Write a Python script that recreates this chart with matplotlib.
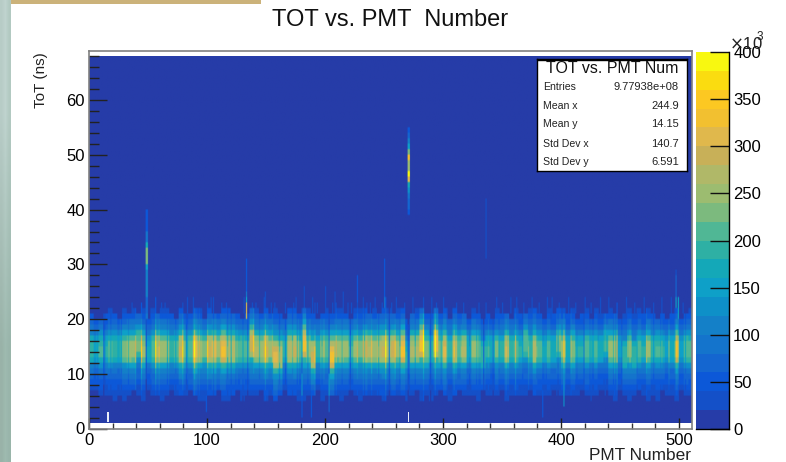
import numpy as np
import matplotlib
matplotlib.use("Agg")
import matplotlib.pyplot as plt
from matplotlib.colors import ListedColormap, BoundaryNorm
from matplotlib.patches import Rectangle
from matplotlib.ticker import MultipleLocator

plt.rcParams['font.family'] = ['Liberation Sans', 'DejaVu Sans']

# ---- values ----
n_pmt = 511
group_size = 4
group_amp = [190,150,200,180,210,195,175,230,250,245,220,240,160,215,265,255,250,190,205,285,
             235,215,315,255,225,285,315,245,325,275,275,205,215,205,295,265,255,285,245,305,
             275,185,275,285,210,325,245,285,185,245,215,325,245,250,245,200,245,225,295,265,
             255,275,285,265,295,245,325,180,265,260,325,235,185,315,235,305,185,275,215,265,
             175,245,205,190,180,165,225,185,265,190,210,180,215,190,275,205,160,205,175,225,
             245,175,235,180,180,215,165,205,165,180,245,205,155,190,225,190,205,180,245,190,
             200,180,155,175,205,150,215,205]
group_top = [21,20,20,21,22,21,20,22,21,22,21,22,20,22,21,22,22,21,20,22,
             21,21,22,22,20,22,21,21,22,22,21,21,20,21,22,22,21,22,21,22,
             21,20,22,22,21,22,22,21,20,21,22,21,22,22,21,20,22,22,22,21,
             22,21,22,22,21,22,22,20,21,22,22,21,21,22,21,22,20,22,21,21,
             20,22,21,20,21,20,22,21,21,20,22,21,21,22,22,21,20,22,21,22,
             22,21,22,20,21,22,20,22,21,21,22,21,20,21,22,21,22,21,22,21,
             20,21,20,21,22,20,21,22]
group_bot = [7,7,6,6,6,5,6,5,6,7,6,5,7,6,6,5,6,7,6,6,
             6,7,6,5,5,6,6,7,5,5,6,7,5,6,6,6,7,5,6,5,
             6,7,6,6,5,5,6,6,7,5,6,6,6,5,6,7,6,5,6,6,
             6,6,5,6,6,6,6,5,6,7,5,6,5,6,7,6,5,6,7,6,
             5,6,5,7,6,5,6,7,5,6,6,5,6,7,6,6,5,6,7,6,
             6,5,6,5,7,6,5,6,7,6,6,5,7,6,5,6,7,6,5,6,
             5,7,6,6,5,7,6,6]
shift_down_groups = [39,40,47,51,67,83,113,115]
shift_up_groups = [10,34,45,70,73,92,99,109]

profile_tot = [5,6,7,8,9,10,11,12,13,14,15,16,17,18,19,20,21,22,23,24,25]
profile_val = [.11,.15,.21,.28,.36,.45,.60,.88,1.0,1.0,.98,.85,.62,.44,.33,.23,.15,.11,.10,.10,.10]

line_pmt    = [12,13,48,82,83,100,120,134,149,166,180,203,221,251,254,270,271,283,289,293,303,
               334,342,361,402,419,445,447,491,497,498,499,44,56,79,89,
               6,18,26,33,39,52,59,66,73,93,105,111,117,125,130,139,144,155,161,172,177,185,191,
               197,209,214,227,233,239,245,259,263,276,298,309,315,322,329,338,347,353,367,372,
               379,386,391,397,408,413,425,431,437,451,458,464,472,478,485,505]
line_factor = [.5,.75,.38,.58,.72,1.22,.72,.62,1.28,.72,.52,.52,.48,1.42,.42,.42,.62,1.32,.52,1.38,.72,
               .42,.62,1.38,1.45,.62,1.32,1.45,1.5,1.6,1.6,1.3,1.42,1.42,1.28,1.28,
               1.15,.8,1.12,.85,1.18,.82,1.15,.78,.85,1.15,.82,1.18,.8,1.12,.78,1.18,.85,1.15,.8,.82,1.2,.78,1.15,
               .82,1.18,.85,1.15,.78,1.18,.8,1.15,.82,.78,.85,1.18,1.12,.8,1.15,1.12,.78,1.15,.82,1.18,
               .8,1.12,.82,.78,1.15,.82,1.18,.8,1.12,.78,1.15,.82,1.12,.8,1.15,.8]

spike_pmt = [48,48,48,48,48,48,48,48,133,133,133,133,133,
             270,270,270,270,270,270,270,270,270,270,270,270,270,270,270,270,
             336,250,250,227,182,200,149,208,215,
             180,180,188,203,203,99,384,402,497,497,497,499]
spike_lo  = [36,34,33,30,29,24,21,20,26,25,24,23,20,
             52,51,50,49,47,46,45,44,43,42,41,39,53,54,40,48,
             31,24,22,23,23,23,22,22,22,
             2,6,2,3,6,3,2,4,24,22,26,20]
spike_hi  = [40,36,34,33,30,29,24,21,31,26,25,24,23,
             53,52,51,50,49,47,46,45,44,43,42,41,54,55,41,49,
             42,31,24,28,26,26,25,25,25,
             6,10,7,6,10,6,7,9,28,24,29,24]
spike_val = [50,90,170,230,140,110,70,80,40,50,80,150,280,
             100,140,230,320,240,400,300,170,120,80,70,50,60,50,60,240,
             30,40,80,40,30,30,30,30,30,
             50,130,50,60,130,40,40,130,60,150,30,150]
wide_spike_pmt = [48,270]
bump_pmt = [36,44,56,61,64,79,83,88,100,103,105,112,116,131,138,141,148,154,157,166,173,175,182,
            189,191,193,200,206,209,215,219,222,227,232,235,238,242,248,251,256,260,267,274,283,
            290,294,300,311,317,330,336,345,350,357,362,368,375,381,388,392,398,406,412,420,425,
            433,440,447,455,462,470,478,485,493,503]
bump_top = [23,23,24,23,23,23,24,24,23,24,24,23,23,24,23,23,24,23,23,23,23,24,24,
            24,23,23,24,23,23,24,23,23,25,24,23,23,24,23,24,23,24,23,24,24,
            24,23,24,23,23,23,23,24,23,24,24,23,24,23,24,24,23,24,23,24,23,
            24,24,23,24,23,24,23,24,24,23]
white_pmt = [15,270]

cbar_levels = list(range(0, 420, 20))
cbar_colors = ['#263ca8','#1450c8','#0c58d8','#1466d0','#1474cc','#1480c8','#0e90c8','#0ea0c8',
               '#14a8b8','#2eb0a4','#50b795','#7cba7e','#9cbc70','#b0b868','#c8b058','#e0b84c',
               '#f2c030','#fcc822','#fadc10','#f8f810']
cbar_ticks = [0,50,100,150,200,250,300,350,400]
x_major = 100
x_minor = 20
y_major = 10
y_minor = 2
stat_names = ['Entries','Mean x','Mean y','Std Dev x','Std Dev y']
stat_values = ['9.77938e+08','244.9','14.15','140.7','6.591']

# ---- build histogram ----
Z = np.zeros((67, n_pmt))
prof = dict(zip(profile_tot, profile_val))
for g, a in enumerate(group_amp):
    s = 1 if g in shift_up_groups else (-1 if g in shift_down_groups else 0)
    for p in range(g * group_size, min((g + 1) * group_size, n_pmt)):
        for tot in range(group_bot[g], group_top[g]):
            Z[tot - 1, p] = a * prof.get(tot - s, .11)
for p, t in zip(bump_pmt, bump_top):
    Z[20:t - 1, p] = np.maximum(Z[20:t - 1, p], 30)
for p, f in zip(line_pmt, line_factor):
    Z[:, p] = Z[:, p] * f
for p, lo, hi, v in zip(spike_pmt, spike_lo, spike_hi, spike_val):
    Z[lo - 1:hi - 1, p] = np.maximum(Z[lo - 1:hi - 1, p], v)
    if p in wide_spike_pmt:
        Z[lo - 1:hi - 1, p + 1] = np.maximum(Z[lo - 1:hi - 1, p + 1], v)
Z_view = np.repeat(Z, 3, axis=0)

W, H = 786, 462
fig = plt.figure(figsize=(W / 100, H / 100), dpi=100, facecolor='white')

def rect(l, t, r, b):
    return [l / W, 1 - b / H, (r - l) / W, (b - t) / H]

# slide background remnants
bg = fig.add_axes([0, 0, 1, 1], zorder=0)
bg.axis('off')
bg.imshow(np.array([[[.72,.80,.78],[.75,.83,.81],[.70,.79,.76]],
                    [[.60,.70,.66],[.62,.73,.69],[.60,.71,.67]]]),
          extent=(0, 11, H, 0), aspect='auto', interpolation='bilinear')
bg.add_patch(Rectangle((11, 0), 250, 3.5, color='#cbb27a', lw=0))
bg.set_xlim(0, W); bg.set_ylim(H, 0)

# main histogram
cmap = ListedColormap(cbar_colors)
norm = BoundaryNorm(cbar_levels, cmap.N, clip=True)
ax = fig.add_axes(rect(89, 51, 692, 428.5), zorder=1)
ax.imshow(Z_view, origin='lower', extent=(0, n_pmt, 1, 68), aspect='auto', cmap=cmap, norm=norm,
          interpolation='bilinear', interpolation_stage='rgba')
for wp in white_pmt:
    ax.add_patch(Rectangle((wp, 1.1), 1.6, 2, color='#e8ecf8', lw=0))
ax.set_xlim(0, n_pmt)
ax.set_ylim(0, 69.0)
ax.xaxis.set_major_locator(MultipleLocator(x_major))
ax.xaxis.set_minor_locator(MultipleLocator(x_minor))
ax.yaxis.set_major_locator(MultipleLocator(y_major))
ax.yaxis.set_minor_locator(MultipleLocator(y_minor))
ax.tick_params(which='major', axis='x', direction='in', length=8, width=1, labelsize=12, pad=3, color='#222222')
ax.tick_params(which='minor', axis='x', direction='in', length=4.4, width=1, color='#333333')
ax.tick_params(which='major', axis='y', direction='in', length=13, width=1, labelsize=12, pad=3, color='#222222')
ax.tick_params(which='minor', axis='y', direction='in', length=7, width=1, color='#222222')
for sp in ax.spines.values():
    sp.set_color('#808080'); sp.set_linewidth(1.2)
fig.text(691 / W, 1 - 455 / H, 'PMT Number', ha='right', va='center', fontsize=12.4, color='#222222')
fig.text(41.5 / W, 1 - 80 / H, 'ToT (ns)', rotation=90, ha='center', va='center', fontsize=11, color='#222222')
fig.text(390 / W, 1 - 20 / H, 'TOT vs. PMT  Number', ha='center', va='center', fontsize=17, color='#111111')

# stats box
box = fig.add_axes(rect(537, 59, 687, 171), zorder=3)
box.set_xticks([]); box.set_yticks([])
for sp in box.spines.values():
    sp.set_linewidth(1); sp.set_color('black')
box.axhline(1 - 18 / 112, color='black', lw=1)
box.set_xlim(0, 150); box.set_ylim(112, 0)
box.text(75, 9.5, 'TOT vs. PMT Num', ha='center', va='center', fontsize=11.5, color='#111111')
for yy, nm, vl in zip([28, 47, 65, 85, 103], stat_names, stat_values):
    box.text(6, yy, nm, ha='left', va='center', fontsize=7.6, color='#222222')
    box.text(142, yy, vl, ha='right', va='center', fontsize=8, color='#222222')

# colour bar
cax = fig.add_axes(rect(696, 52, 729, 429), zorder=2)
cax.pcolormesh([0, 1], cbar_levels, np.array(cbar_levels[:-1])[:, None] + 10, cmap=cmap, norm=norm)
cax.set_xlim(0, 1); cax.set_ylim(0, 400)
cax.set_xticks([])
cax.yaxis.tick_right()
cax.set_yticks(cbar_ticks)
cax.tick_params(axis='y', direction='in', length=14, width=1, labelsize=12, pad=3, color='#111111')
cax.spines['left'].set_visible(False)
cax.spines['top'].set_visible(False)
cax.spines['bottom'].set_linewidth(1)
cax.spines['right'].set_linewidth(1)
fig.text(729 / W, 1 - 44 / H, r'$\times$10', ha='left', va='center', fontsize=12, color='#222222')
fig.text(757 / W, 1 - 37 / H, '3', ha='left', va='center', fontsize=8.5, color='#222222')

fig.savefig('out.png', dpi=100)
